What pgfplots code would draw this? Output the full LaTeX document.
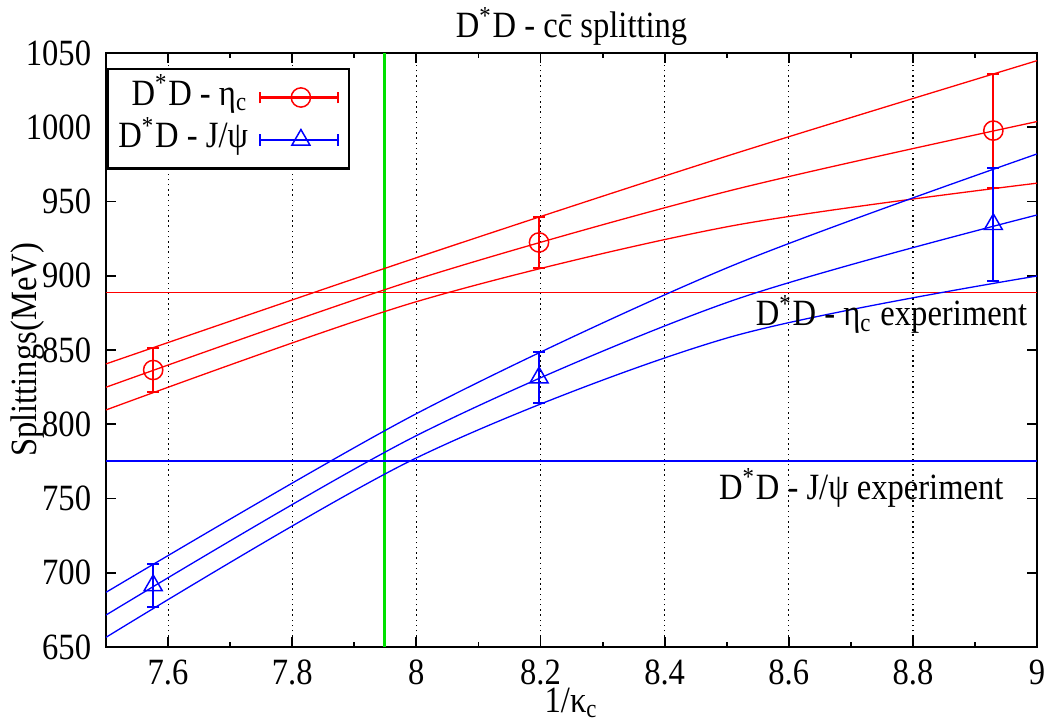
\documentclass[border=0pt]{standalone}
\usepackage{fontspec}
\setmainfont{Liberation Serif}[FakeStretch=0.88]
\usepackage{pgfplots}
\pgfplotsset{compat=1.18}
\definecolor{gnred}{RGB}{255,0,0}
\definecolor{gnblue}{RGB}{0,0,255}
\definecolor{gngreen}{RGB}{0,225,0}
\begin{document}
\begin{tikzpicture}
\begin{axis}[
  name=ax,
  scale only axis,
  width=251.4pt, height=160.4pt,
  xmin=7.5, xmax=9, ymin=650, ymax=1050,
  xtick={7.6,7.8,8,8.2,8.4,8.6,8.8,9},
  minor xtick={7.5,7.7,7.9,8.1,8.3,8.5,8.7,8.9},
  ytick={650,700,...,1050},
  tick align=inside,
  major tick length=2.7pt, minor tick length=1.4pt,
  tick style={black, line width=0.5pt},
  axis line style={line width=0.6pt},
  xmajorgrids, major grid style={black, densely dotted, line width=0.3pt},
  /pgf/number format/assume math mode=true,
  /pgf/number format/1000 sep={},
  ticklabel style={font=\fontsize{10}{12}\selectfont},
  yticklabel style={xshift=-0.5pt},
  xticklabel style={inner ysep=0.5pt, yshift=-2.8pt},
  label style={font=\fontsize{10}{12}\selectfont},
  title style={font=\fontsize{10}{12}\selectfont},
  every axis title shift=0pt,
  xlabel={1/κ\textsubscript{c}},
  ylabel={Splittings(MeV)},
  title={D\textsuperscript{*}D - c\={c} splitting},
  xlabel style={at={(axis description cs:0.5,-0.094)}, anchor=center, inner sep=0pt},
  ylabel style={at={(axis description cs:-0.0838,0.5)}, anchor=center},
  title style={at={(axis description cs:0.5,1.044)}, anchor=center},
  legend style={at={(axis description cs:0.001,0.975)}, anchor=north west,
    draw=black, line width=0.6pt, fill=white, font=\fontsize{10}{12}\selectfont,
    row sep=2pt, column sep=3pt, inner xsep=2.8pt, inner ysep=3pt,
    nodes={inner ysep=0pt, inner xsep=0pt, text height=6.8pt, text depth=2.65pt}},
  legend cell align=right,
  legend plot pos=right,
  legend image code/.code={
    \draw[line width=0.55pt] (0pt,0pt) -- (21pt,0pt);
    \draw[line width=0.55pt] (0pt,-1.6pt) -- (0pt,1.6pt) (21pt,-1.6pt) -- (21pt,1.6pt);
    \draw[mark repeat=2, mark phase=2, draw=none] plot coordinates {(0pt,0pt) (11pt,0pt) (21pt,0pt)};
  },
]
% experiment lines and green line
\addplot[gngreen, line width=0.85pt, forget plot] coordinates {(7.948,650) (7.948,1050)};
\addplot[gnred, line width=0.45pt, forget plot] coordinates {(7.5,888.6) (9,888.6)};
\addplot[gnblue, line width=0.45pt, forget plot] coordinates {(7.5,775.2) (9,775.2)};
% fit bands
\addplot[gnred, line width=0.35pt, smooth, forget plot] coordinates {(7.5,840.6) (8.0,912.1) (8.5,980.5) (9.0,1044.8)};
\addplot[gnred, line width=0.35pt, smooth, forget plot] coordinates {(7.5,824.9) (8.0,897.5) (8.5,956.7) (9.0,1003.8)};
\addplot[gnred, line width=0.35pt, smooth, forget plot] coordinates {(7.5,809.6) (8.0,882.5) (8.5,932.9) (9.0,962.3)};
\addplot[gnblue, line width=0.35pt, smooth, forget plot] coordinates {(7.5,686.8) (8.0,807.1) (8.5,905.2) (9.0,982.0)};
\addplot[gnblue, line width=0.35pt, smooth, forget plot] coordinates {(7.5,671.5) (8.0,792.3) (8.5,881.9) (9.0,940.9)};
\addplot[gnblue, line width=0.35pt, smooth, forget plot] coordinates {(7.5,656.5) (8.0,777.3) (8.5,858.0) (9.0,899.8)};
% data
\addplot[gnred, only marks, mark=o, mark size=2.6pt, mark options={line width=0.4pt},
  error bars/.cd, y dir=both, y explicit,
  error bar style={line width=0.55pt},
  error mark options={gnred, mark size=1.6pt, line width=0.55pt, rotate=90}]
  coordinates {(7.576,836.5) +- (0,14.5) (8.1976,922.4) +- (0,17.4) (8.9295,997.7) +- (0,38.4)};
\addlegendentry{D\textsuperscript{*}D - η\textsubscript{c}}
\addplot[gnblue, only marks, mark=triangle, mark size=2.8pt, mark options={line width=0.4pt},
  error bars/.cd, y dir=both, y explicit,
  error bar style={line width=0.55pt},
  error mark options={gnblue, mark size=1.6pt, line width=0.55pt, rotate=90}]
  coordinates {(7.576,691.5) +- (0,14.5) (8.1976,831.4) +- (0,17.0) (8.9295,934.6) +- (0,38.2)};
\addlegendentry{D\textsuperscript{*}D - J/ψ}
\node[anchor=east, inner sep=0pt, font=\fontsize{10}{12}\selectfont] at (axis cs:8.985,874) {D\textsuperscript{*}D - η\textsubscript{c} experiment};
\node[anchor=east, inner sep=0pt, font=\fontsize{10}{12}\selectfont] at (axis cs:8.947,757) {D\textsuperscript{*}D - J/ψ experiment};
\end{axis}
\pgfresetboundingbox
\path (ax.south west) ++(-28.62pt,-19.44pt) coordinate (bbA);
\path (ax.south west) ++(255.42pt,174.69pt) coordinate (bbB);
\useasboundingbox (bbA) rectangle (bbB);
\end{tikzpicture}
\end{document}
